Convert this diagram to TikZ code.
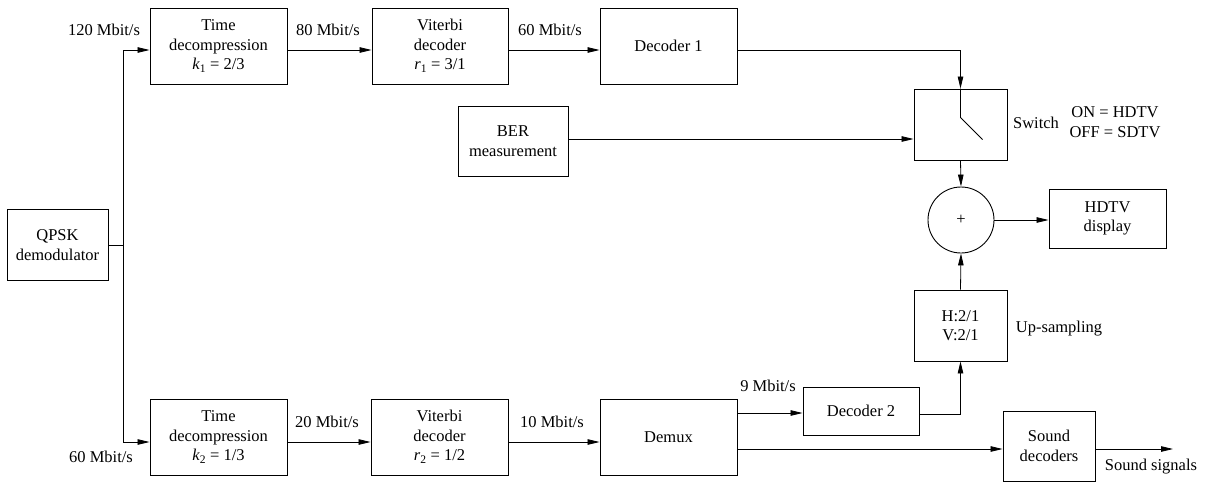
\documentclass[tikz,border=0pt]{standalone}
\usepackage{fontspec}
\setmainfont{Liberation Serif}
\usetikzlibrary{arrows.meta}
\begin{document}
\begin{tikzpicture}[x=1pt,y=-1pt,
  every node/.style={font=\fontsize{16.5}{19.5}\selectfont},
  blk/.style={draw,line width=0.9pt,align=center,inner sep=0pt},
  lbl/.style={inner sep=0pt,align=center},
  conn/.style={line width=0.8pt},
  arr/.style={conn,-{Triangle[length=12pt,width=5.5pt]}}]
\useasboundingbox (0,0) rectangle (1208,483);
% blocks
\node[blk,minimum width=101pt,minimum height=71pt] (qpsk) at (57.5,245) {QPSK\\demodulator};
\node[blk,minimum width=137pt,minimum height=76pt] (td1) at (218.5,46) {Time\\decompression\\\textit{k}\textsubscript{1} = 2/3};
\node[blk,minimum width=136pt,minimum height=76pt] (vit1) at (440,46) {Viterbi\\decoder\\\textit{r}\textsubscript{1} = 3/1};
\node[blk,minimum width=137pt,minimum height=76pt] (dec1) at (668.5,46) {Decoder 1};
\node[blk,minimum width=110pt,minimum height=70pt] (ber) at (513,141) {BER\\measurement};
\node[blk,minimum width=93pt,minimum height=71pt] (sw) at (960.5,124.5) {};
\node[draw,circle,line width=0.9pt,minimum size=66pt,inner sep=0pt] (circ) at (961,220) {+};
\node[blk,minimum width=117pt,minimum height=59pt] (hdtv) at (1107.5,218.5) {HDTV\\display};
\node[blk,minimum width=93pt,minimum height=71pt] (ups) at (960.5,325.5) {H:2/1\\V:2/1};
\node[blk,minimum width=137pt,minimum height=76pt] (td2) at (218.5,437) {Time\\decompression\\\textit{k}\textsubscript{2} = 1/3};
\node[blk,minimum width=137pt,minimum height=76pt] (vit2) at (439.5,437) {Viterbi\\decoder\\\textit{r}\textsubscript{2} = 1/2};
\node[blk,minimum width=137pt,minimum height=76pt] (demux) at (668.5,437) {Demux};
\node[blk,minimum width=116pt,minimum height=48pt] (dec2) at (861,411) {Decoder 2};
\node[blk,minimum width=92pt,minimum height=70pt] (snd) at (1049,446) {Sound\\decoders};
% coordinates
\coordinate (j) at (123,245);
\coordinate (sndout) at (1173,449);
% connectors
\draw[conn] (qpsk.east) -- (j);
\draw[arr] (j) |- ([yshift=-4pt]td1.west);
\draw[arr] (j) |- ([yshift=-5pt]td2.west);
\draw[arr] ([yshift=-4pt]td1.east) -- ([yshift=-4pt]vit1.west);
\draw[arr] ([yshift=-4pt]vit1.east) -- ([yshift=-4pt]dec1.west);
\draw[arr] ([yshift=-4pt]dec1.east) -| (sw.north);
\draw[arr] (ber.east |- 0,139) -- (sw.west |- 0,139);
\draw[arr] (sw.south) -- (circ.north);
\draw[arr] (circ.east) -- (hdtv.west |- circ.east);
\draw[arr] (ups.north) -- (circ.south);
\draw[arr] ([yshift=-5pt]td2.east) -- ([yshift=-5pt]vit2.west);
\draw[arr] ([yshift=-5pt]vit2.east) -- ([yshift=-5pt]demux.west);
\draw[arr] ([yshift=24pt]demux.east) -- ([yshift=24pt]demux.east -| dec2.west);
\draw[arr] ([yshift=-3pt]dec2.east) -| (ups.south);
\draw[arr] ([yshift=-12pt]demux.east) -- ([yshift=-12pt]demux.east -| snd.west);
\draw[arr] (snd.east |- sndout) -- (sndout);
% switch lever
\draw[conn] (sw.north) -- ++(0,29) -- ++(22,22);
% labels
\node[lbl] at (104,30) {120 Mbit/s};
\node[lbl] at (328,30) {80 Mbit/s};
\node[lbl] at (550,30) {60 Mbit/s};
\node[lbl] at (1036,123) {Switch};
\node[lbl] at (1115,122) {ON = HDTV\\OFF = SDTV};
\node[lbl] at (1059,329) {Up-sampling};
\node[lbl] at (101,457) {60 Mbit/s};
\node[lbl] at (327,422) {20 Mbit/s};
\node[lbl] at (552,422) {10 Mbit/s};
\node[lbl] at (768,386) {9 Mbit/s};
\node[lbl] at (1151,467) {Sound signals};
\end{tikzpicture}
\end{document}
